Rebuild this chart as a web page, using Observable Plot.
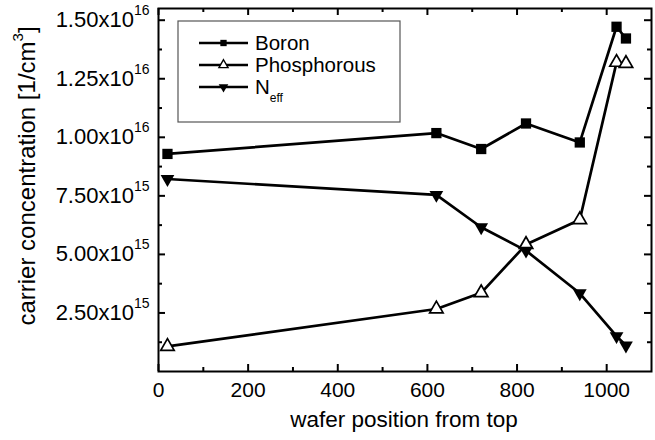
<!DOCTYPE html>
<html><head><meta charset="utf-8">
<script src="https://cdn.jsdelivr.net/npm/d3@7"></script>
<script src="https://cdn.jsdelivr.net/npm/@observablehq/plot@0.6"></script>
<style>
body{margin:0;background:#fff}
#chart{position:relative;width:655px;height:440px}
svg{font-family:"Liberation Sans",Arial,sans-serif}
</style>
</head><body><div id="chart"></div>
<script>
// ---- data ----
const positions   = [20, 620, 720, 820, 940, 1022, 1043];
const boron       = [9.29e15, 10.18e15, 9.50e15, 10.59e15, 9.78e15, 14.72e15, 14.22e15];
const phosphorous = [1.07e15, 2.67e15, 3.36e15, 5.42e15, 6.48e15, 13.2e15, 13.15e15];
const neff        = [8.22e15, 7.54e15, 6.16e15, 5.16e15, 3.34e15, 1.51e15, 1.11e15];
const seriesNames = ["Boron", "Phosphorous", "N"];
const seriesSubs  = ["", "", "eff"];

const xMajorTicks = [0, 200, 400, 600, 800, 1000];
const xMinorTicks = [100, 300, 500, 700, 900];
const yMajorTicks = [2.5e15, 5e15, 7.5e15, 1e16, 1.25e16, 1.5e16];
const yMinorTicks = [1.25e15, 3.75e15, 6.25e15, 8.75e15, 1.125e16, 1.375e16];
const yTickMantissa = ["2.50", "5.00", "7.50", "1.00", "1.25", "1.50"];
const yTickExponent = ["15", "15", "15", "16", "16", "16"];
const xLabel = "wafer position from top";
const yLabel = "carrier concentration [1/cm";
const yLabelSup = "3";

// ---- build table ----
const table = [];
[boron, phosphorous, neff].forEach((vals, s) => {
  vals.forEach((v, i) => table.push({series: s, x: positions[i], y: v}));
});
const sub = s => table.filter(d => d.series === s);

const triangleDown = {
  draw(context, size) {
    const y = -Math.sqrt(size / (Math.sqrt(3) * 3));
    context.moveTo(0, -y * 2);
    context.lineTo(-Math.sqrt(3) * y, y);
    context.lineTo(Math.sqrt(3) * y, y);
    context.closePath();
  }
};

const font = '"Liberation Sans", Arial, sans-serif';
const W = 655, H = 440, ML = 158, MR = 4, MT = 8, MB = 69;
const innerW = W - ML - MR, innerH = H - MT - MB;
const major = 7, minor = 4;
const tickStyle = {stroke: "#000", strokeWidth: 2};

const plot = Plot.plot({
  width: W,
  height: H,
  marginLeft: ML,
  marginRight: MR,
  marginTop: MT,
  marginBottom: MB,
  style: {fontFamily: font, fontSize: "21px", color: "#000", background: "#fff"},
  x: {domain: [0, 1100]},
  y: {domain: [0, 1.55e16]},
  axis: null,
  marks: [
    // lines
    Plot.line(sub(0), {x: "x", y: "y", stroke: "#000", strokeWidth: 2.7}),
    Plot.line(sub(1), {x: "x", y: "y", stroke: "#000", strokeWidth: 2.7}),
    Plot.line(sub(2), {x: "x", y: "y", stroke: "#000", strokeWidth: 2.7}),
    // markers
    Plot.dot(sub(0), {x: "x", y: "y", symbol: "square", r: 5.8, fill: "#000", stroke: "none"}),
    Plot.dot(sub(1), {x: "x", y: "y", symbol: "triangle", r: 5.0, fill: "#fff", stroke: "#000", strokeWidth: 1.7}),
    Plot.dot(sub(2), {x: "x", y: "y", symbol: triangleDown, r: 5.1, fill: "#000", stroke: "none"}),
    // inward ticks on all four sides
    Plot.tickX(xMajorTicks, {x: d => d, insetTop: innerH - major, ...tickStyle}),
    Plot.tickX(xMinorTicks, {x: d => d, insetTop: innerH - minor, ...tickStyle}),
    Plot.tickX(xMajorTicks, {x: d => d, insetBottom: innerH - major, ...tickStyle}),
    Plot.tickX(xMinorTicks, {x: d => d, insetBottom: innerH - minor, ...tickStyle}),
    Plot.tickY(yMajorTicks, {y: d => d, insetRight: innerW - major, ...tickStyle}),
    Plot.tickY(yMinorTicks, {y: d => d, insetRight: innerW - minor, ...tickStyle}),
    Plot.tickY(yMajorTicks, {y: d => d, insetLeft: innerW - major, ...tickStyle}),
    Plot.tickY(yMinorTicks, {y: d => d, insetLeft: innerW - minor, ...tickStyle}),
    // tick labels
    Plot.axisX({anchor: "bottom", ticks: xMajorTicks, tickSize: 0, tickPadding: 11, label: null, fontSize: 21, tickFormat: d => String(d)}),
    Plot.axisY({anchor: "left", ticks: yMajorTicks, tickSize: 0, tickPadding: 9, label: null, fontSize: 22,
      tickFormat: (d) => { const i = yMajorTicks.indexOf(d); return yTickMantissa[i] + "x10|" + yTickExponent[i]; }}),
    Plot.frame({stroke: "#000", strokeWidth: 2})
  ]
});

document.getElementById("chart").appendChild(plot);
const svg = d3.select(plot);

// superscripts in y tick labels
svg.selectAll("text").filter(function() { return this.textContent.includes("|"); }).each(function() {
  const t = d3.select(this);
  const [base, exp] = t.text().split("|");
  t.text(null);
  t.append("tspan").text(base);
  t.append("tspan").attr("dy", -12).attr("font-size", 14).text(exp);
});

// axis labels
svg.append("text")
  .attr("x", 404).attr("y", 427)
  .attr("text-anchor", "middle").attr("font-size", 22.5).attr("fill", "#000")
  .text(xLabel);
const yl = svg.append("text")
  .attr("transform", "translate(35,176) rotate(-90)")
  .attr("text-anchor", "middle").attr("font-size", 24).attr("fill", "#000");
yl.append("tspan").text(yLabel);
yl.append("tspan").attr("dy", -12).attr("font-size", 15).text(yLabelSup);
yl.append("tspan").attr("dy", 12).text("]");

// legend
const lg = svg.append("g");
lg.append("rect").attr("x", 178).attr("y", 21).attr("width", 222).attr("height", 101)
  .attr("fill", "#fff").attr("stroke", "#555").attr("stroke-width", 1.2);
const legendSymbols = [
  d3.symbol(d3.symbolSquare, 40),
  d3.symbol(d3.symbolTriangle, 36),
  d3.symbol(triangleDown, 40)
];
const legendFills = ["#000", "#fff", "#000"];
seriesNames.forEach((name, i) => {
  const cy = 43 + i * 22;
  lg.append("line").attr("x1", 199).attr("x2", 248).attr("y1", cy).attr("y2", cy)
    .attr("stroke", "#000").attr("stroke-width", 2.5);
  lg.append("path").attr("d", legendSymbols[i]()).attr("transform", `translate(223.5,${cy})`)
    .attr("fill", legendFills[i]).attr("stroke", i === 1 ? "#000" : "none").attr("stroke-width", 1.4);
  const t = lg.append("text").attr("x", 255).attr("y", cy + 7).attr("font-size", 20.5)
    .attr("text-anchor", "start").attr("fill", "#000");
  t.append("tspan").text(name);
  if (seriesSubs[i]) t.append("tspan").attr("dy", 8).attr("font-size", 12).text(seriesSubs[i]);
});
</script>
</body></html>
